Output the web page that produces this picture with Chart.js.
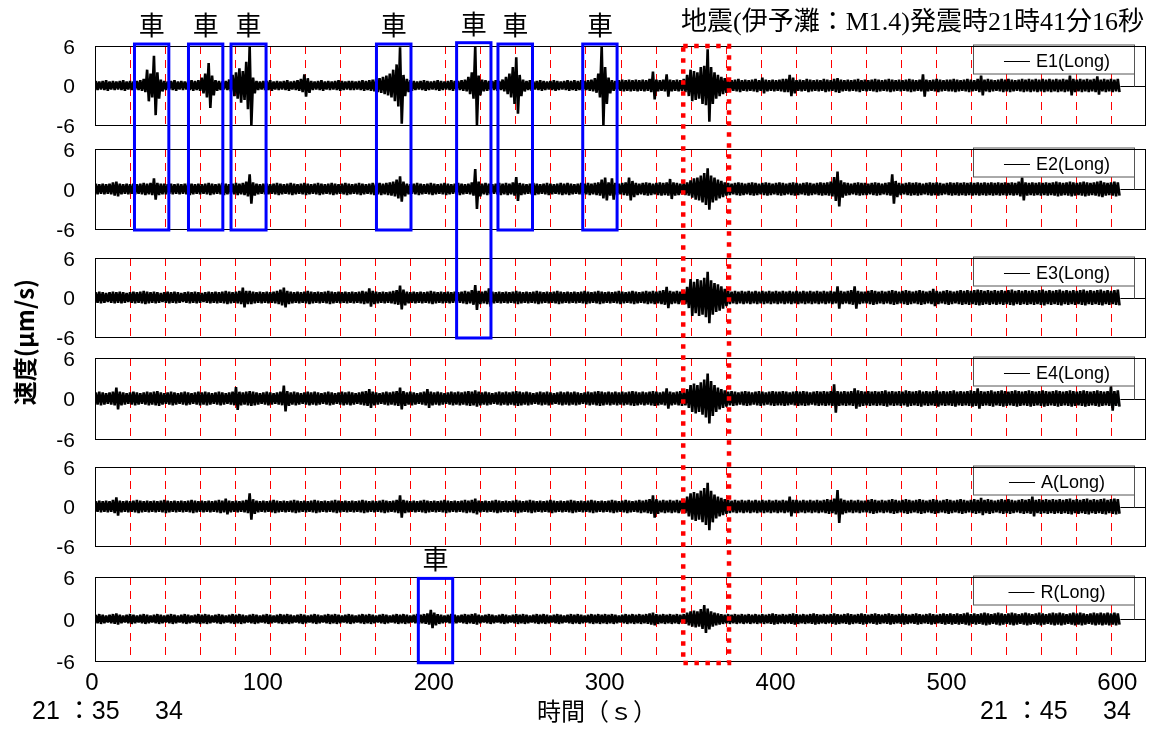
<!DOCTYPE html>
<html><head><meta charset="utf-8">
<script src="https://cdn.jsdelivr.net/npm/chart.js@4/dist/chart.umd.min.js"></script>
<style>html,body{margin:0;padding:0;background:#fff;}#wrap{position:relative;width:1160px;height:731px;}canvas{display:block;}</style>
</head><body><div id="wrap"><canvas id="c" width="1160" height="731"></canvas></div>
<script>
// ---------------- data ----------------
const BIN_SECONDS = 2;                       // each value = peak velocity (µm/s) within a 2 s window
const X_TICKS = [0, 100, 200, 300, 400, 500, 600];
const Y_TICKS = [-6, 0, 6];
const SERIES_NAMES = ['E1(Long)', 'E2(Long)', 'E3(Long)', 'E4(Long)', 'A(Long)', 'R(Long)'];

const E1 = [
0.7,0.6,0.7,0.8,0.6,0.7,0.6,0.7,0.8,0.6,0.7,0.6,0.7,0.8,1.0,2.4,1.8,4.5,2.0,0.9,0.7,0.6,0.7,0.8,0.6,
0.7,0.6,0.7,0.8,0.7,0.8,1.2,1.8,3.4,1.5,0.8,0.7,0.6,0.7,0.9,1.6,2.0,2.6,2.2,3.6,6.0,1.2,0.7,0.6,0.7,
0.7,0.8,0.6,0.7,0.6,0.7,0.8,0.6,0.7,0.8,1.0,1.7,1.1,0.7,0.6,0.7,0.8,0.6,0.7,0.6,0.7,0.8,0.7,0.6,0.7,
0.7,0.6,0.7,0.8,0.7,0.8,0.9,1.0,1.1,1.3,1.5,1.8,2.4,3.2,5.8,1.6,1.0,0.8,0.7,0.6,0.7,0.8,0.7,0.6,0.7,
0.8,0.7,0.6,0.7,0.8,0.7,0.7,0.8,0.9,1.3,2.0,6.0,1.5,0.9,0.8,0.7,0.7,0.8,0.7,0.9,1.3,1.8,2.8,4.3,1.6,
0.9,0.7,0.8,0.6,0.7,0.8,0.7,0.6,0.7,0.8,0.7,0.6,0.7,0.8,0.7,0.8,0.7,0.8,0.7,0.8,0.9,1.1,1.8,6.0,2.8,
1.2,0.8,0.7,0.8,0.9,0.8,0.9,0.8,0.9,0.8,0.9,0.8,1.0,2.1,0.9,0.8,0.9,1.7,0.9,0.8,0.9,0.8,1.0,1.6,2.4,
2.2,2.0,2.8,3.0,5.5,2.8,2.0,1.6,1.3,1.1,0.9,0.8,0.9,1.0,0.8,0.9,0.8,0.9,1.0,0.8,1.2,0.9,0.8,0.9,0.8,
0.9,1.0,1.0,1.6,1.2,0.8,0.9,0.8,1.0,0.9,0.8,0.9,0.8,1.0,0.9,0.8,1.0,1.1,0.9,0.8,0.9,0.8,0.9,1.0,0.8,
0.9,0.8,0.9,1.0,0.9,0.8,0.9,1.0,0.9,0.8,0.9,0.8,0.9,1.0,0.9,0.8,0.9,1.7,0.9,0.8,0.9,1.0,0.9,0.8,0.9,
0.9,1.0,0.9,0.8,0.9,1.0,0.9,0.8,1.0,1.5,0.9,1.0,0.9,0.8,0.9,1.0,0.9,1.0,0.9,0.8,0.9,1.0,0.9,1.0,0.9,
1.0,0.9,1.0,0.9,1.0,0.9,1.0,0.9,1.0,0.9,1.5,1.0,0.9,1.0,0.9,1.0,0.9,1.0,1.4,0.9,1.0,0.9,1.0,0.9,1.0
];
const E2 = [
0.8,0.7,0.8,0.7,0.8,1.0,1.1,0.8,0.7,0.8,0.7,0.8,0.7,0.8,0.9,0.8,0.9,1.6,0.9,0.8,0.8,0.7,0.8,0.7,0.8,
0.7,0.8,0.9,0.8,0.7,0.8,0.7,0.8,0.9,0.8,0.7,0.8,0.9,0.8,0.7,0.8,0.9,0.8,0.9,1.1,2.2,1.0,0.8,0.7,0.8,
0.8,0.7,0.8,0.9,0.8,0.7,0.8,0.9,0.8,0.7,0.8,0.9,0.8,0.7,0.8,0.9,0.8,0.7,0.8,0.9,0.8,0.7,0.8,0.9,0.8,
0.7,0.8,0.9,0.8,0.7,0.8,0.9,0.8,0.9,0.8,0.9,1.0,1.1,1.4,1.9,1.1,0.8,0.7,0.8,0.9,0.8,0.7,0.8,0.9,0.8,
0.7,0.8,0.9,0.8,0.7,0.8,0.9,0.8,0.7,0.8,1.0,3.0,1.1,0.8,0.9,0.8,0.7,0.8,0.9,0.8,0.9,0.8,1.0,1.8,0.9,
0.8,0.7,0.8,0.9,0.8,0.7,0.8,0.9,0.8,0.7,0.8,0.9,0.8,0.9,0.8,0.7,0.8,0.9,0.8,0.9,0.8,0.9,1.0,1.4,1.7,
1.0,1.6,0.9,0.8,0.9,1.0,1.7,1.2,0.9,0.8,0.9,1.0,0.9,0.8,0.9,1.0,0.9,1.0,1.5,1.0,0.9,0.8,0.9,1.0,1.3,
1.6,1.7,2.0,2.4,3.1,2.0,1.7,1.4,1.2,1.0,0.9,0.8,0.9,1.0,0.9,0.8,0.9,1.0,0.9,0.8,0.9,1.0,0.9,0.8,0.9,
1.0,0.9,0.8,0.9,1.0,0.9,0.8,0.9,1.0,0.9,0.8,0.9,1.0,0.9,1.0,1.1,1.8,2.6,1.3,1.0,0.9,0.8,0.9,1.0,0.9,
0.9,0.8,0.9,1.0,0.9,0.8,0.9,1.0,2.2,1.2,0.9,0.8,0.9,1.0,0.9,1.0,0.9,0.8,0.9,1.0,0.9,1.0,0.9,0.8,0.9,
1.0,0.9,1.0,0.9,1.0,0.9,1.0,0.9,1.0,0.9,1.0,0.9,1.0,0.9,1.0,0.9,1.0,0.9,1.0,0.9,1.1,1.7,1.0,0.9,1.0,
0.9,1.0,0.9,1.0,0.9,1.0,1.1,1.0,0.9,1.0,1.1,1.0,0.9,1.0,1.1,1.0,0.9,1.0,1.1,1.2,1.0,0.9,1.0,1.1,1.0
];
const E3 = [
0.8,0.9,0.8,0.7,0.8,0.9,0.8,0.9,0.8,0.7,0.8,0.9,0.8,0.9,1.0,0.9,0.8,0.9,0.8,0.7,0.8,0.9,0.8,0.9,0.8,
0.7,0.8,0.9,0.8,0.9,0.8,0.7,0.8,0.9,0.8,0.9,0.8,0.9,1.0,0.9,0.8,0.9,1.0,1.5,1.0,1.0,0.9,0.8,0.9,0.8,
0.9,0.8,0.9,1.0,1.2,1.5,1.0,0.9,0.8,0.9,0.8,0.9,1.0,0.9,0.8,0.9,0.8,0.9,1.0,0.9,0.8,0.9,0.8,0.9,0.8,
0.9,0.8,0.9,1.0,0.9,1.4,1.0,0.9,0.8,0.9,0.8,0.9,1.0,1.1,1.8,1.2,0.9,0.8,0.9,0.8,0.9,0.8,0.9,1.0,0.9,
0.8,0.9,0.8,0.9,0.8,0.9,0.8,0.9,1.0,0.9,1.1,1.9,1.0,0.9,1.0,1.4,0.9,0.8,0.9,0.8,0.9,0.8,0.9,1.0,0.9,
0.8,0.9,0.8,0.9,1.0,0.9,0.8,0.9,0.8,0.9,1.0,0.9,0.8,0.9,0.8,0.9,0.8,0.9,1.0,0.9,0.8,0.9,1.0,0.9,0.8,
0.9,0.8,0.9,1.0,0.9,0.8,0.9,1.0,0.9,0.8,0.9,1.0,0.9,1.0,0.9,1.0,1.1,1.6,1.0,0.9,1.0,0.9,1.0,1.6,2.8,
2.4,2.8,2.6,3.0,3.9,2.6,2.2,2.0,1.7,1.3,1.0,0.9,1.0,0.9,1.0,0.9,1.0,0.9,1.0,0.9,1.0,0.9,1.0,0.9,1.0,
0.9,1.0,0.9,1.0,0.9,1.0,0.9,1.0,0.9,1.0,0.9,1.0,0.9,1.0,0.9,1.0,0.9,1.7,1.0,0.9,1.0,1.1,1.7,1.0,0.9,
0.9,1.0,1.1,1.0,0.9,1.0,0.9,1.0,1.1,1.0,0.9,1.0,1.1,1.0,0.9,1.0,1.1,1.0,0.9,1.0,1.3,1.0,0.9,1.0,1.1,
1.0,0.9,1.0,1.1,1.0,1.1,1.0,1.1,1.2,1.1,1.0,1.1,1.0,1.1,1.0,1.1,1.0,1.1,1.2,1.0,1.1,1.0,1.1,1.0,1.1,
1.0,1.1,1.2,1.0,1.1,1.0,1.1,1.2,1.0,1.1,1.0,1.1,1.0,1.1,1.2,1.0,1.1,1.0,1.1,1.2,1.0,1.1,1.0,1.1,1.2
];
const E4 = [
0.9,1.0,0.9,0.8,0.9,1.0,1.6,1.0,0.9,0.8,0.9,1.0,0.9,0.8,0.9,1.0,0.9,1.0,1.1,0.9,0.8,0.9,1.0,0.9,0.8,
0.9,1.0,0.9,0.8,0.9,1.0,0.9,1.0,0.9,0.8,0.9,1.0,0.9,0.8,0.9,1.0,1.7,1.0,0.9,1.0,1.1,1.0,0.9,0.8,0.9,
1.0,0.9,0.8,0.9,1.0,1.9,1.1,0.9,1.0,0.9,0.8,0.9,1.0,0.9,1.0,0.9,0.8,0.9,1.0,0.9,0.8,0.9,1.0,0.9,1.0,
0.9,0.8,0.9,1.0,1.1,1.4,1.0,0.9,0.8,0.9,1.0,0.9,1.0,1.1,1.6,1.1,0.9,1.0,0.9,0.8,0.9,1.0,1.4,1.0,0.9,
1.0,0.9,0.8,0.9,1.0,0.9,1.0,0.9,1.0,1.1,1.0,1.2,1.0,0.9,1.0,0.9,0.8,0.9,1.0,0.9,1.0,0.9,1.0,1.1,1.0,
0.9,1.0,0.9,0.8,0.9,1.0,0.9,1.0,0.9,0.8,0.9,1.0,0.9,1.0,0.9,1.0,0.9,0.8,0.9,1.0,0.9,1.0,1.1,1.0,0.9,
1.0,0.9,1.0,0.9,1.0,0.9,1.0,1.1,1.0,0.9,1.0,0.9,1.0,1.1,1.0,0.9,1.0,1.5,1.0,0.9,1.0,1.1,1.0,1.4,2.0,
2.2,2.0,2.4,2.8,3.7,2.6,2.0,1.6,1.4,1.2,1.0,1.1,1.0,0.9,1.0,1.1,1.0,0.9,1.0,1.1,1.0,0.9,1.0,1.1,1.0,
1.0,1.1,1.0,0.9,1.0,1.1,1.0,1.1,1.0,0.9,1.0,1.1,1.0,1.1,1.0,1.1,2.1,1.1,1.0,1.1,1.0,1.1,1.5,1.2,1.1,
1.0,1.1,1.0,1.1,1.0,1.1,1.2,1.0,1.1,1.0,1.1,1.0,1.2,1.1,1.0,1.1,1.2,1.0,1.1,1.0,1.1,1.2,1.0,1.1,1.0,
1.1,1.2,1.0,1.1,1.0,1.1,1.2,1.1,1.5,1.1,1.0,1.1,1.2,1.0,1.1,1.2,1.1,1.0,1.1,1.2,1.1,1.0,1.1,1.2,1.1,
1.0,1.1,1.2,1.1,1.0,1.1,1.2,1.1,1.0,1.1,1.2,1.1,1.0,1.1,1.2,1.1,1.0,1.1,1.2,1.1,1.0,1.1,1.8,1.1,1.2
];
const A = [
0.8,0.9,0.8,0.9,0.8,1.0,1.4,0.9,0.8,0.9,0.8,0.9,1.0,0.9,0.8,0.9,0.8,0.9,0.8,0.9,1.0,0.9,0.8,0.9,0.8,
0.9,0.8,0.9,1.0,0.9,0.8,0.9,0.8,0.9,0.8,0.9,1.0,0.9,1.2,0.9,0.8,0.9,0.8,0.9,1.0,2.0,1.1,0.9,0.8,0.9,
0.8,0.9,1.0,0.9,0.8,0.9,0.8,0.9,1.0,0.9,0.8,0.9,0.8,0.9,1.0,0.9,0.8,0.9,0.8,0.9,1.0,0.9,0.8,0.9,0.8,
0.9,0.8,0.9,1.0,0.9,0.8,0.9,0.8,0.9,1.0,0.9,0.8,0.9,1.0,1.7,1.0,0.9,0.8,0.9,0.8,0.9,1.0,0.9,0.8,0.9,
0.8,0.9,1.0,0.9,0.8,0.9,0.8,0.9,1.0,0.9,1.0,1.2,0.9,0.8,0.9,0.8,0.9,1.0,0.9,0.8,0.9,0.8,0.9,1.0,0.9,
0.8,0.9,1.0,0.9,0.8,0.9,0.8,0.9,1.0,0.9,0.8,0.9,0.8,0.9,1.0,0.9,0.8,0.9,0.8,0.9,1.0,0.9,0.8,0.9,0.8,
0.9,1.0,0.9,0.8,0.9,1.0,0.9,0.8,0.9,1.0,0.9,1.0,1.1,1.7,1.1,0.9,1.0,0.9,1.0,0.9,1.0,0.9,1.0,1.5,2.0,
2.2,2.0,2.4,2.8,3.6,2.4,1.8,1.5,1.3,1.1,1.0,0.9,1.0,0.9,1.0,0.9,1.0,0.9,1.0,0.9,1.0,0.9,1.0,0.9,1.0,
0.9,1.0,0.9,1.5,1.0,1.0,0.9,1.0,0.9,1.0,0.9,1.0,0.9,1.0,1.1,1.0,1.2,2.5,1.2,1.0,0.9,1.0,0.9,1.0,0.9,
0.9,1.0,1.1,1.0,0.9,1.0,0.9,1.0,1.1,1.0,0.9,1.0,1.1,1.0,0.9,1.0,1.1,1.0,0.9,1.0,1.1,1.0,0.9,1.0,1.1,
1.0,0.9,1.0,1.1,1.0,0.9,1.0,1.1,1.0,1.3,1.0,1.1,1.0,0.9,1.0,1.1,1.0,1.1,1.0,0.9,1.0,1.1,1.0,1.1,1.5,
1.0,1.1,1.0,1.1,1.0,1.1,1.0,1.1,1.0,1.1,1.2,1.0,1.1,1.0,1.1,1.2,1.0,1.1,1.0,1.1,1.2,1.0,1.1,1.2,1.1
];
const R = [
0.6,0.7,0.6,0.5,0.6,0.7,0.8,0.6,0.5,0.6,0.7,0.6,0.5,0.6,0.7,0.6,0.5,0.6,0.7,0.6,0.5,0.6,0.7,0.6,0.5,
0.6,0.7,0.6,0.5,0.6,0.7,0.6,0.7,0.6,0.5,0.6,0.7,0.6,0.5,0.6,0.7,0.6,0.7,0.6,0.5,0.6,0.7,0.6,0.5,0.6,
0.7,0.6,0.5,0.6,0.7,0.6,0.7,0.6,0.5,0.6,0.7,0.6,0.5,0.6,0.7,0.6,0.5,0.6,0.7,0.6,0.7,0.6,0.5,0.6,0.7,
0.6,0.5,0.6,0.7,0.6,0.7,0.6,0.5,0.6,0.7,0.6,0.5,0.6,0.7,0.6,0.7,0.6,0.5,0.6,0.7,0.6,0.7,0.8,1.3,0.9,
0.7,0.6,0.5,0.6,0.7,0.6,0.5,0.6,0.7,0.6,0.7,0.8,0.6,0.5,0.6,0.7,0.6,0.5,0.6,0.7,0.6,0.5,0.6,0.7,0.6,
0.7,0.6,0.5,0.6,0.7,0.6,0.7,0.6,0.5,0.6,0.7,0.6,0.5,0.6,0.7,0.6,0.7,0.6,0.5,0.6,0.7,0.6,0.7,0.6,0.7,
0.6,0.7,0.6,0.5,0.6,0.7,0.6,0.7,0.6,0.7,0.6,0.7,0.8,0.9,0.7,0.6,0.7,0.6,0.7,0.6,0.7,0.6,0.7,0.9,1.1,
1.2,1.1,1.4,2.0,1.5,1.1,0.9,0.8,0.7,0.6,0.7,0.6,0.7,0.6,0.7,0.6,0.7,0.6,0.7,0.6,0.7,0.6,0.7,0.8,0.7,
0.6,0.7,0.6,0.7,0.8,0.7,0.6,0.7,0.6,0.7,0.8,0.7,0.6,0.7,0.6,0.7,0.8,0.7,0.6,0.7,0.8,0.7,0.6,0.7,0.8,
0.7,0.6,0.7,0.8,0.7,0.6,0.7,0.8,0.7,0.6,0.7,0.8,0.7,0.6,0.7,0.8,0.7,0.6,0.7,0.8,0.7,0.6,0.7,0.8,0.7,
0.8,0.7,0.8,0.7,0.8,0.9,0.7,0.8,0.7,0.8,0.9,0.8,0.7,0.8,0.9,0.8,0.7,0.8,0.9,0.8,0.7,0.8,0.9,0.8,0.7,
0.8,0.9,0.8,0.7,0.8,0.9,0.8,0.9,0.8,0.7,0.8,0.9,0.8,0.9,0.8,0.7,0.8,0.9,0.8,0.9,0.8,0.9,0.8,0.9,0.8
];
const SERIES = [E1, E2, E3, E4, A, R];

// car (車) windows: time span (s) and the panel / value where each box starts and ends
const CAR_START        = [23.1, 54.7, 79.6, 164.7, 211.6, 235.8, 285.4, 189.2];
const CAR_END          = [43.2, 74.8, 100.1, 184.9, 231.7, 256.0, 305.5, 209.3];
const CAR_TOP_PANEL    = [0, 0, 0, 0, 0, 0, 0, 5];
const CAR_TOP_VALUE    = [6.3, 6.3, 6.3, 6.3, 6.5, 6.3, 6.3, 5.8];
const CAR_BOTTOM_PANEL = [1, 1, 1, 1, 2, 1, 1, 5];
const CAR_BOTTOM_VALUE = [-6.15, -6.15, -6.15, -6.15, -6.15, -6.15, -6.15, -6.25];
const CAR_LABEL = '車';

// earthquake window
const QUAKE_START = 344.2, QUAKE_END = 371.0;
const QUAKE_TOP_VALUE = 6.0, QUAKE_BOTTOM_VALUE = -6.3;
const TITLE = '地震(伊予灘：M1.4)発震時21時41分16秒';
const Y_TITLE = '速度(μm/s)';
const X_TITLE = '時間（ｓ）';
const START_TIME = ['21 ：35', '34'];
const END_TIME = ['21 ：45', '34'];

// ---------------- layout / style ----------------
const X_MAX = 615, GRID_STEP = 20.5;
const AREA_TOP = 46, AREA_BOTTOM = 661;
const PANEL_TOP_PX = [46, 149, 258, 358, 467, 577];
const PANEL_BOTTOM_PX = [125, 229, 337, 439, 546, 661];
const SANS = "'Liberation Sans', Arial, sans-serif";
const JP = "'Noto Sans CJK JP', sans-serif";
const Y_TICK_SIZE = 21;

function panelScale(k) {
  const t = PANEL_TOP_PX[k], b = PANEL_BOTTOM_PX[k];
  const upp = 12 / (b - t);
  return {
    type: 'linear', position: 'left',
    min: -6 - (AREA_BOTTOM - b) * upp,
    max: 6 + (t - AREA_TOP) * upp,
    afterBuildTicks: s => { s.ticks = Y_TICKS.map(v => ({ value: v })); },
    afterFit: s => { s.width = 0; },
    grid: { display: false, drawTicks: false },
    border: { display: false },
    ticks: { color: '#000', font: { family: SANS, size: Y_TICK_SIZE },
             mirror: true, crossAlign: 'far', padding: -(20 + 0.889 * Y_TICK_SIZE),
             labelOffset: 2, autoSkip: false, callback: v => String(v) }
  };
}

const scales = {
  x: {
    type: 'linear', position: 'bottom', min: 0, max: X_MAX, offset: false,
    afterBuildTicks: s => { s.ticks = X_TICKS.map(v => ({ value: v })); },
    afterFit: s => { s.height = 731 - AREA_BOTTOM; },
    grid: { display: false, drawTicks: false, offset: false },
    border: { display: false },
    ticks: { color: '#000', font: { family: SANS, size: 24 }, padding: 8, labelOffset: -3, maxRotation: 0, autoSkip: false,
             callback: v => String(v) }
  }
};
SERIES.forEach((s, k) => { scales['y' + k] = panelScale(k); });

// each 2 s window is drawn as one swing: up to +peak, then down to -peak
const datasets = SERIES.map((arr, k) => ({
  label: SERIES_NAMES[k], yAxisID: 'y' + k,
  data: arr.flatMap((a, i) => [
    { x: i * BIN_SECONDS + BIN_SECONDS * 0.25, y: a },
    { x: i * BIN_SECONDS + BIN_SECONDS * 0.75, y: -a }
  ]),
  borderColor: '#000', borderWidth: 2.6, borderJoinStyle: 'bevel', pointRadius: 0, fill: false, tension: 0
}));

const annot = {
  id: 'annot',
  beforeDatasetsDraw(chart) {
    const { ctx } = chart; const xs = chart.scales.x;
    ctx.save();
    ctx.strokeStyle = '#ff0000'; ctx.lineWidth = 1; ctx.setLineDash([8, 6]);
    SERIES.forEach((s, k) => {
      const ys = chart.scales['y' + k];
      const top = ys.getPixelForValue(6), bot = ys.getPixelForValue(-6);
      for (let v = GRID_STEP; v < X_MAX - 1e-6; v += GRID_STEP) {
        const px = Math.round(xs.getPixelForValue(v)) + 0.5;
        ctx.beginPath(); ctx.moveTo(px, top); ctx.lineTo(px, bot); ctx.stroke();
      }
    });
    ctx.restore();
  },
  afterDatasetsDraw(chart) {
    const { ctx, chartArea } = chart; const xs = chart.scales.x;
    const yOf = (k, v) => chart.scales['y' + k].getPixelForValue(v);
    ctx.save();
    ctx.setLineDash([]);
    const L = Math.round(chartArea.left) + 0.5, Rr = Math.round(chartArea.right) - 0.5;
    SERIES.forEach((s, k) => {
      const top = Math.round(yOf(k, 6)) + 0.5, bot = Math.round(yOf(k, -6)) + 0.5;
      const y0 = Math.round(yOf(k, 0)) + 0.5;
      // zero line after the record ends
      ctx.strokeStyle = '#000'; ctx.lineWidth = 1;
      ctx.beginPath(); ctx.moveTo(xs.getPixelForValue(s.length * BIN_SECONDS), y0); ctx.lineTo(Rr, y0); ctx.stroke();
      // legend
      const bw = 161, bh = 29, bx = Math.round(chartArea.right) - 12 - bw + 0.5, by = top - 1.5;
      ctx.strokeStyle = '#555';
      ctx.beginPath(); ctx.moveTo(bx + bw, by + bh); ctx.lineTo(bx + bw, y0); ctx.stroke();
      ctx.fillStyle = '#fff'; ctx.fillRect(bx, by, bw, bh);
      ctx.strokeRect(bx, by, bw, bh);
      ctx.font = '18px ' + SANS; ctx.textBaseline = 'middle'; ctx.textAlign = 'left';
      const tw = ctx.measureText(SERIES_NAMES[k]).width;
      const gw = 26 + 6 + tw; const gx = bx + (bw - gw) / 2 + 3; const gy = Math.round(by + bh / 2 + 1) + 0.5;
      ctx.strokeStyle = '#000';
      ctx.beginPath(); ctx.moveTo(gx, gy); ctx.lineTo(gx + 26, gy); ctx.stroke();
      ctx.fillStyle = '#000'; ctx.fillText(SERIES_NAMES[k], gx + 32, gy + 1);
      // frame
      ctx.strokeStyle = '#000'; ctx.lineWidth = 1;
      ctx.strokeRect(L, top, Rr - L, bot - top);
    });
    // car boxes
    ctx.strokeStyle = '#0000ff'; ctx.lineWidth = 3;
    ctx.fillStyle = '#000'; ctx.font = '26px ' + JP; ctx.textAlign = 'center'; ctx.textBaseline = 'middle';
    CAR_START.forEach((x0v, i) => {
      const x0 = xs.getPixelForValue(x0v), x1 = xs.getPixelForValue(CAR_END[i]);
      const y0 = yOf(CAR_TOP_PANEL[i], CAR_TOP_VALUE[i]), y1 = yOf(CAR_BOTTOM_PANEL[i], CAR_BOTTOM_VALUE[i]);
      ctx.strokeRect(x0, y0, x1 - x0, y1 - y0);
      ctx.fillText(CAR_LABEL, (x0 + x1) / 2, y0 - 19);
    });
    // earthquake box
    ctx.strokeStyle = '#ff0000'; ctx.lineWidth = 4.5; ctx.setLineDash([4.5, 6.5]);
    const qx0 = xs.getPixelForValue(QUAKE_START), qx1 = xs.getPixelForValue(QUAKE_END);
    const qy0 = yOf(0, QUAKE_TOP_VALUE), qy1 = yOf(SERIES.length - 1, QUAKE_BOTTOM_VALUE);
    ctx.strokeRect(qx0, qy0, qx1 - qx0, qy1 - qy0);
    ctx.setLineDash([]);
    // texts
    ctx.fillStyle = '#000'; ctx.textBaseline = 'middle';
    ctx.font = "26px 'Liberation Serif', 'Noto Sans CJK JP', serif"; ctx.textAlign = 'left';
    ctx.fillText(TITLE, 681, 23);
    ctx.font = '24px ' + JP; ctx.textAlign = 'center';
    ctx.fillText(X_TITLE, 597, 711);
    ctx.font = "25px 'Liberation Sans', 'Noto Sans CJK JP', sans-serif"; ctx.textAlign = 'left';
    ctx.fillText(START_TIME[0], 32, 712); ctx.fillText(START_TIME[1], 155, 712);
    ctx.fillText(END_TIME[0], 980, 712); ctx.fillText(END_TIME[1], 1103, 712);
    ctx.save();
    ctx.translate(25, 342); ctx.rotate(-Math.PI / 2);
    ctx.font = "bold 24px 'Noto Sans CJK JP', sans-serif"; ctx.textAlign = 'center';
    ctx.fillText(Y_TITLE, 0, 0);
    ctx.restore();
    ctx.restore();
  }
};

new Chart(document.getElementById('c'), {
  type: 'line',
  data: { datasets },
  options: {
    responsive: false, animation: false, devicePixelRatio: 1,
    layout: { padding: { left: 95, right: 14, top: AREA_TOP, bottom: 0 } },
    plugins: { legend: { display: false }, tooltip: { enabled: false }, title: { display: false } },
    scales
  },
  plugins: [annot]
});
</script></body></html>
